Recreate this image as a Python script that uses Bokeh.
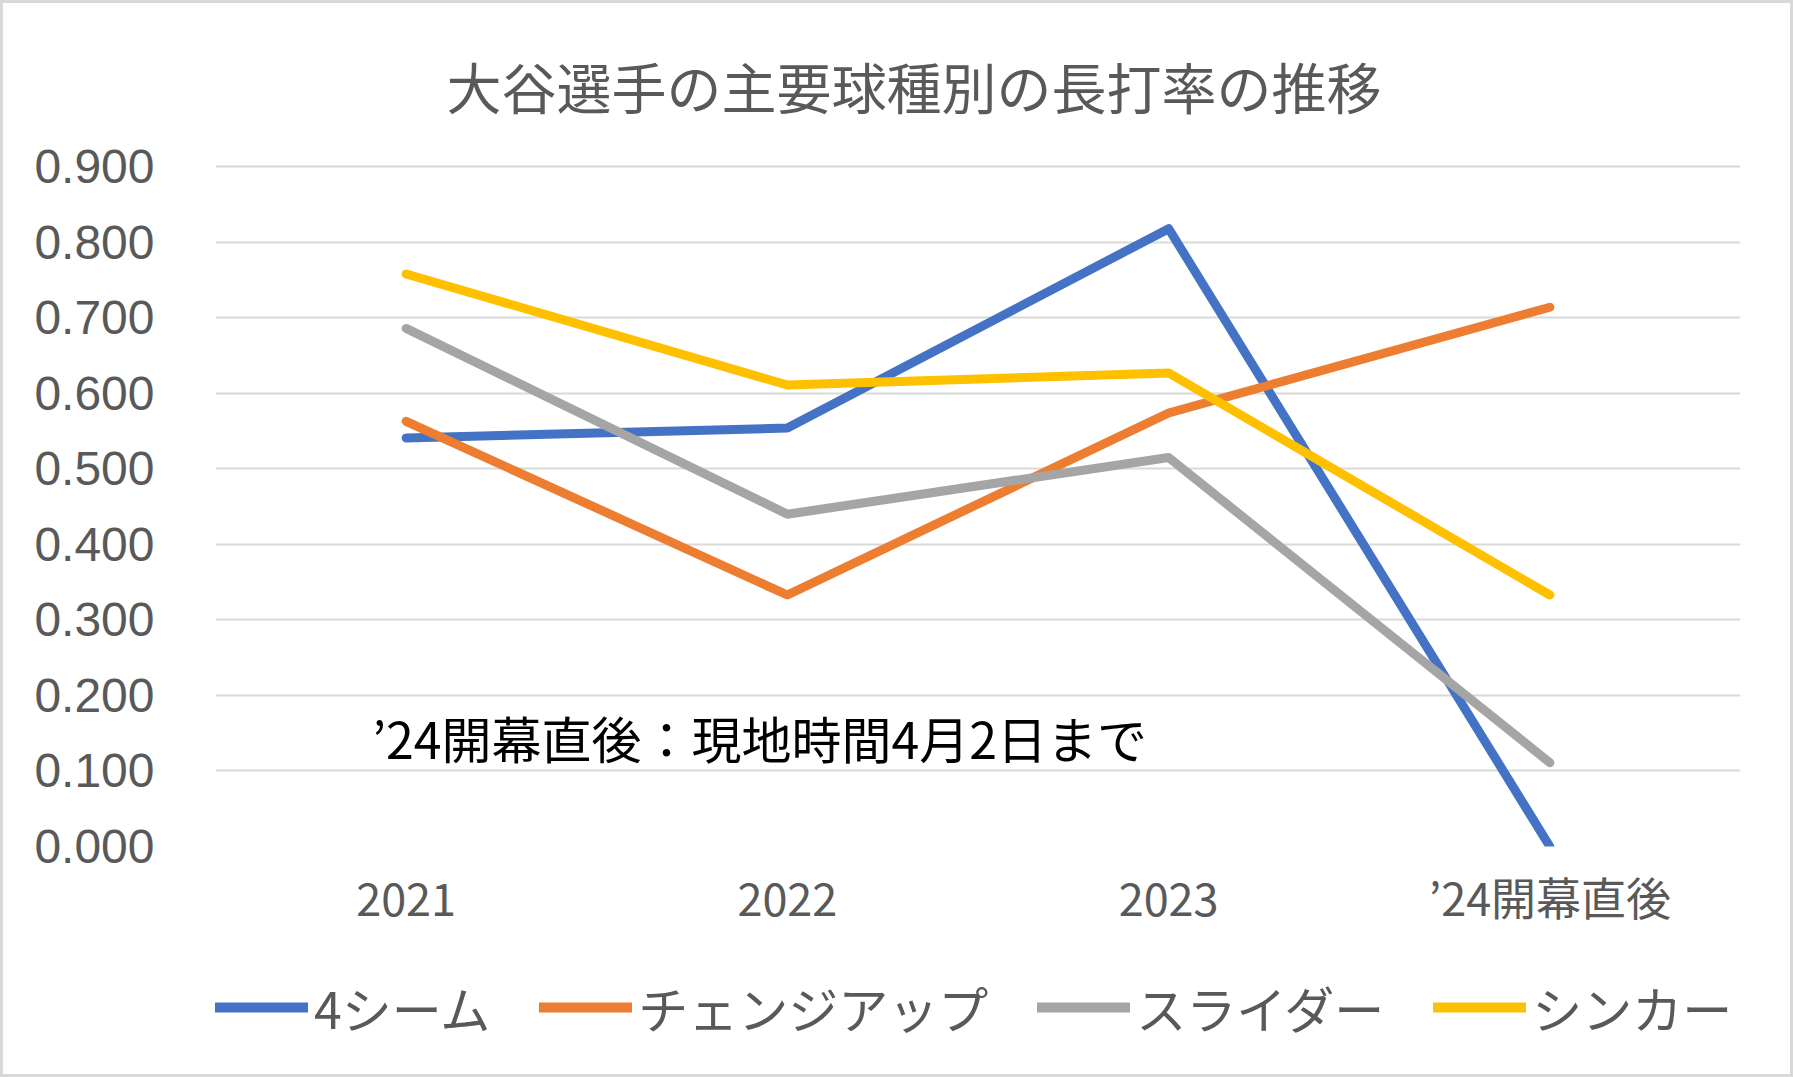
from bokeh.plotting import figure
from bokeh.layouts import column
from bokeh.models import (FactorRange, Range1d, FixedTicker, NumeralTickFormatter,
                          Legend, LegendItem)
from bokeh.core.properties import value
from bokeh.embed import file_html
from bokeh.resources import INLINE

# ---- data ----
categories = ["2021", "2022", "2023", "’24開幕直後"]
four_seam = [0.541, 0.554, 0.818, 0.000]
changeup = [0.563, 0.333, 0.574, 0.714]
slider = [0.686, 0.440, 0.515, 0.111]
sinker = [0.758, 0.611, 0.627, 0.333]
series_names = ["4シーム", "チェンジアップ", "スライダー", "シンカー"]
y_ticks = [0.0, 0.1, 0.2, 0.3, 0.4, 0.5, 0.6, 0.7, 0.8, 0.9]
title_text = "大谷選手の主要球種別の長打率の推移"
note_text = "’24開幕直後：現地時間4月2日まで"
note_pos = (categories[0], 0.145)

JP = "Noto Sans CJK JP"
colors = ["#4472C4", "#ED7D31", "#A5A5A5", "#FFC000"]
series = [four_seam, changeup, slider, sinker]

p = figure(width=1787, height=950, output_backend="svg", toolbar_location=None,
           x_range=FactorRange(*categories, range_padding=0),
           y_range=Range1d(0, 0.903),
           min_border_left=212, min_border_right=50,
           min_border_top=160, min_border_bottom=107)
p.outline_line_color = None
p.background_fill_color = "white"
p.border_fill_color = "white"

# title
p.title.text = title_text
p.title.text_font = JP
p.title.text_font_size = "55px"
p.title.text_font_style = "normal"
p.title.text_color = "#595959"
p.title.align = "left"
p.title.offset = 231
p.title.standoff = 79

# y axis
p.yaxis.ticker = FixedTicker(ticks=y_ticks)
p.yaxis.formatter = NumeralTickFormatter(format="0.000")
p.yaxis.axis_line_color = None
p.yaxis.major_tick_line_color = None
p.yaxis.minor_tick_line_color = None
p.yaxis.major_tick_out = 0
p.yaxis.major_label_standoff = 61
p.yaxis.major_label_text_font = "Liberation Sans"
p.yaxis.major_label_text_font_size = "48px"
p.yaxis.major_label_text_color = "#595959"

# x axis
p.xaxis.axis_line_color = None
p.xaxis.major_tick_line_color = None
p.xaxis.minor_tick_line_color = None
p.xaxis.major_tick_out = 0
p.xaxis.major_label_standoff = 17
p.xaxis.major_label_text_font = JP
p.xaxis.major_label_text_font_size = "45px"
p.xaxis.major_label_text_color = "#595959"

p.xgrid.grid_line_color = None
p.ygrid.grid_line_color = "#d9d9d9"
p.ygrid.grid_line_width = 2

for vals, c in zip(series, colors):
    p.line(x=categories, y=vals, line_color=c, line_width=9,
           line_cap="round", line_join="round")

p.text(x=[note_pos[0]], y=[note_pos[1]], text=[note_text], x_offset=-34,
       text_font=value(JP), text_font_size="50px", text_color="#000000",
       text_align="left", text_baseline="middle")

# ---- legend strip below the chart ----
# same series drawn outside the visible y-range, so only the legend shows
lf = figure(width=1787, height=121, output_backend="svg", toolbar_location=None,
            x_range=FactorRange(*categories, range_padding=0),
            y_range=Range1d(10, 11),
            x_axis_location=None, y_axis_location=None,
            min_border_left=0, min_border_right=0, min_border_top=0, min_border_bottom=0)
lf.outline_line_color = None
lf.xgrid.grid_line_color = None
lf.ygrid.grid_line_color = None
lf.background_fill_color = "white"
lf.border_fill_color = "white"
legend_renderers = [lf.line(x=categories, y=vals, line_color=c, line_width=10, line_cap="round")
                    for vals, c in zip(series, colors)]
legend = Legend(items=[LegendItem(label=n, renderers=[r])
                       for n, r in zip(series_names, legend_renderers)],
                location=(0, 31), orientation="horizontal", nrows=1,
                glyph_width=93, glyph_height=40, label_standoff=6, spacing=49,
                padding=0, margin=0, border_line_color=None, background_fill_alpha=0,
                label_text_font=JP, label_text_font_size="50px", label_text_color="#595959")
lf.add_layout(legend, "center")

layout = column(p, lf, spacing=0, styles={"border": "3px solid #d9d9d9"})

open("out.html", "w").write(file_html(layout, INLINE))
